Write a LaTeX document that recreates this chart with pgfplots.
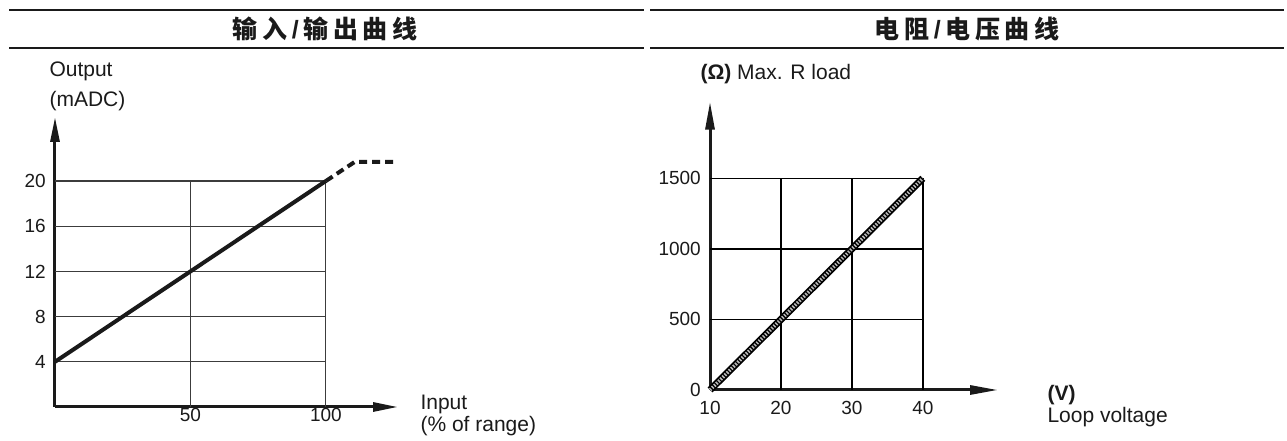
\documentclass[border=0pt]{standalone}
\usepackage{fontspec}
\setmainfont{Liberation Sans}
\newfontfamily\cjk[LetterSpace=18]{Noto Sans CJK SC}
\usepackage{pgfplots}
\pgfplotsset{compat=1.18}
\usetikzlibrary{arrows.meta}

\definecolor{ink}{HTML}{1A1A1A}
\definecolor{gridc}{HTML}{3C3C3C}

\newcommand{\sect}[2]{\fontsize{25}{27}\selectfont{\cjk\bfseries #1}\textbf{/}\hspace{5pt}{\cjk\bfseries #2}}

\pgfplotsset{
  refax/.style={
    scale only axis, clip=false,
    axis lines=left,
    major tick length=0pt,
    tick label style={font=\fontsize{19}{21}\selectfont, text=ink},
    /pgf/number format/assume math mode=true,
    /pgf/number format/1000 sep={},
    axis line style={line width=3pt, ink},
    unbounded coords=jump,
  }
}

\begin{document}
\begin{tikzpicture}[x=1pt,y=1pt]
\path (0,0) rectangle (1287,441);

% section headers
\draw[line width=2pt, ink] (9,430.5) -- (644,430.5) (9,393) -- (644,393);
\draw[line width=2pt, ink] (650,430.5) -- (1284,430.5) (650,393) -- (1284,393);
\node[ink] at (325,412) {\sect{输入}{输出曲线}};
\node[ink] at (967,412) {\sect{电阻}{电压曲线}};

% input / output curve
\begin{axis}[refax,
  at={(55pt,34pt)}, anchor=south west,
  width=343pt, height=290pt,
  xmin=0, xmax=126.6, ymin=0, ymax=25.66,
  xtick={50,100}, ytick={4,8,12,16,20},
  x axis line style={-{Triangle[length=25pt,width=9pt]}},
  y axis line style={-{Triangle[length=25pt,width=9pt]}},
  xticklabel style={inner sep=1pt},
  yticklabel style={inner sep=0pt, xshift=-9pt},
]
\addplot[gridc, line width=1.1pt] coordinates {
  (0,4)(100,4) (nan,nan) (0,8)(100,8) (nan,nan) (0,12)(100,12) (nan,nan)
  (0,16)(100,16) (nan,nan) (0,20)(100,20) (nan,nan)
  (50,0)(50,20) (nan,nan) (100,0)(100,20)
};
\addplot[ink, line width=4pt] coordinates {(0,4)(100,20)};
\addplot[ink, line width=4pt, dash pattern=on 8pt off 5pt]
  coordinates {(100,20)(110.7,21.7)(125.5,21.7)};
\end{axis}

\node[anchor=west, ink] at (46,370) {\fontsize{21}{23}\selectfont Output};
\node[anchor=west, ink] at (46,340) {\fontsize{21}{23}\selectfont (mADC)};
\node[anchor=west, ink] at (417,37) {\fontsize{21}{23}\selectfont Input};
\node[anchor=west, ink] at (417,15) {\fontsize{21}{23}\selectfont (\% of range)};

% resistance / voltage curve
\begin{axis}[refax,
  at={(710pt,51pt)}, anchor=south west,
  width=288pt, height=288.3pt,
  xmin=10, xmax=50.6, ymin=0, ymax=2043,
  xtick={10,20,30,40}, ytick={0,500,1000,1500},
  x axis line style={-{Triangle[length=28pt,width=9pt]}},
  y axis line style={-{Triangle[length=28pt,width=9pt]}},
  xticklabel style={inner sep=0pt, yshift=-11pt},
  yticklabel style={inner sep=0pt, xshift=-9pt},
]
\addplot[black, line width=1.4pt] coordinates {
  (10,500)(40,500) (nan,nan) (10,1000)(40,1000) (nan,nan) (10,1500)(40,1500) (nan,nan)
  (20,0)(20,1500) (nan,nan) (30,0)(30,1500) (nan,nan) (40,0)(40,1500)
};
\addplot[black, line width=7pt] coordinates {(10,0)(40,1500)};
\addplot[gray!55, line width=3.5pt, dash pattern=on 1.5pt off 1.5pt]
  coordinates {(10,0)(40,1500)};
\end{axis}

\node[anchor=west, ink] at (697,367) {\fontsize{21}{23}\selectfont\textbf{(Ω)} Max. R load};
\node[anchor=west, ink] at (1044,46) {\fontsize{21}{23}\selectfont\bfseries (V)};
\node[anchor=west, ink] at (1044,24) {\fontsize{21}{23}\selectfont Loop voltage};
\end{tikzpicture}
\end{document}
